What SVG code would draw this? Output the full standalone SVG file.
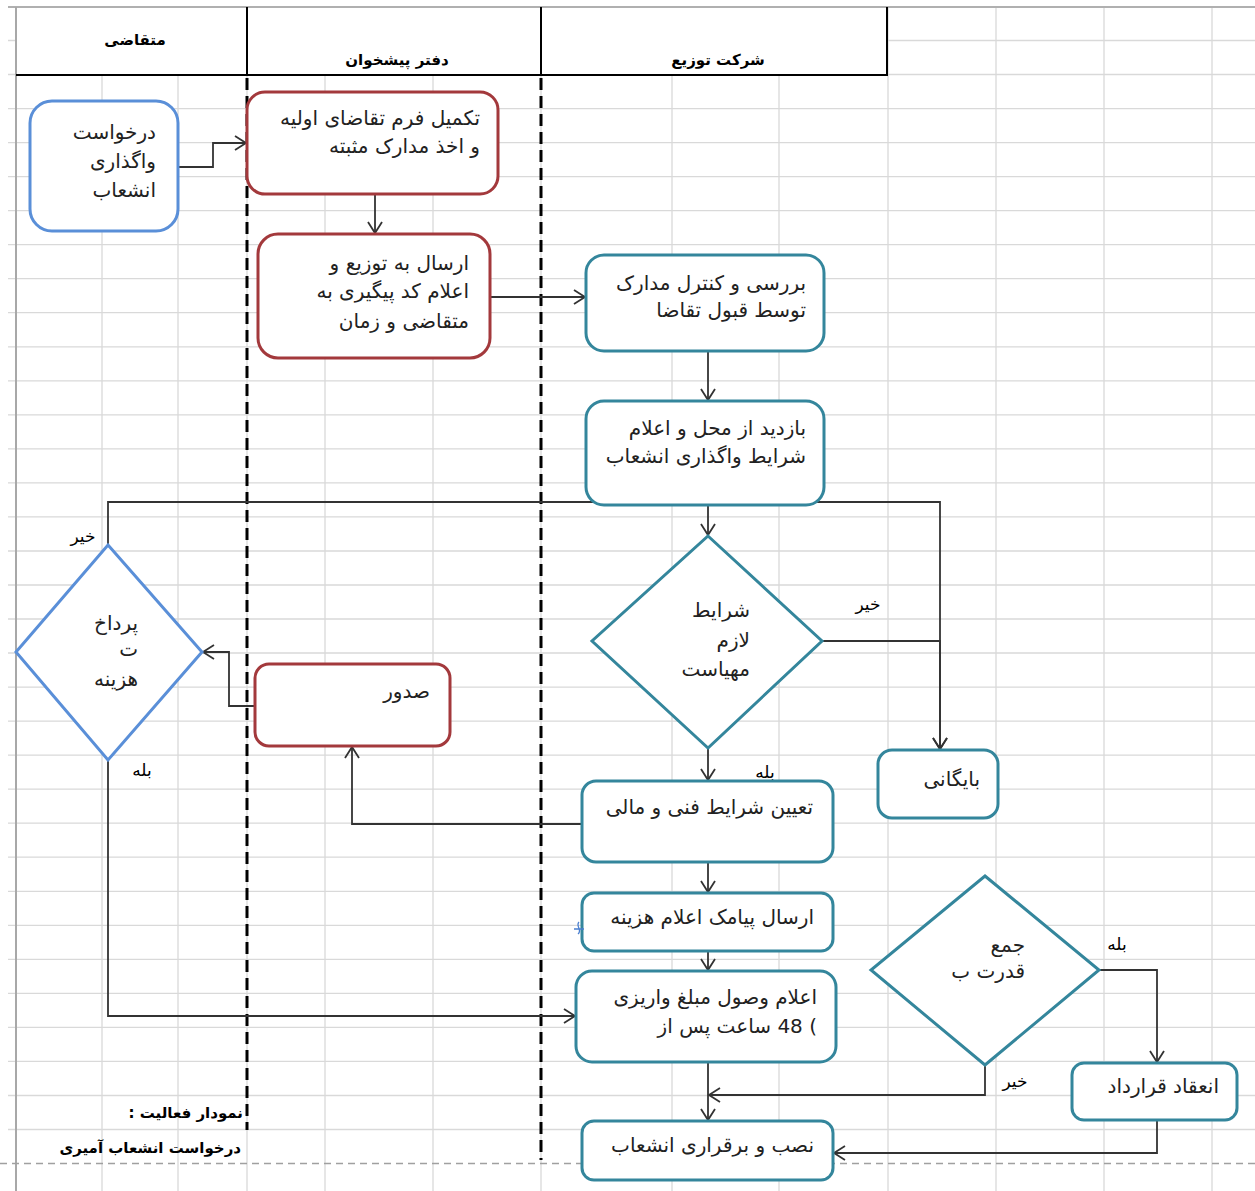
<svg xmlns="http://www.w3.org/2000/svg" width="1255" height="1191" viewBox="0 0 1255 1191">
<defs>
<marker id="arr" markerUnits="userSpaceOnUse" markerWidth="14" markerHeight="16" refX="12" refY="8" orient="auto">
<path d="M1,1 L12,8 L1,15" fill="none" stroke="#333" stroke-width="1.8"/>
</marker>
</defs>
<style>
.grid line{stroke:#d9d9d9;stroke-width:1.3}
.hdr{font-family:"DejaVu Sans",sans-serif;font-size:15px;font-weight:bold;fill:#000}
.t{font-family:"DejaVu Sans",sans-serif;font-size:20px;fill:#222}
.r{direction:rtl;text-anchor:start}
.m{text-anchor:middle}
.lbl{font-family:"DejaVu Sans",sans-serif;font-size:17px;fill:#000}
.blue{fill:#fff;stroke:#5a8fd8;stroke-width:3}
.red{fill:#fff;stroke:#a3393c;stroke-width:3}
.teal{fill:#fff;stroke:#34869c;stroke-width:3}
.c{fill:none;stroke:#333;stroke-width:1.8}
.lane{stroke:#000;stroke-width:3;stroke-dasharray:12 6}
</style>
<rect width="1255" height="1191" fill="#fff"/>
<g class="grid">
<line x1="8" y1="40.5" x2="1255" y2="40.5"/><line x1="8" y1="74.5" x2="1255" y2="74.5"/><line x1="8" y1="108.6" x2="1255" y2="108.6"/><line x1="8" y1="142.6" x2="1255" y2="142.6"/><line x1="8" y1="176.6" x2="1255" y2="176.6"/><line x1="8" y1="210.7" x2="1255" y2="210.7"/><line x1="8" y1="244.7" x2="1255" y2="244.7"/><line x1="8" y1="278.7" x2="1255" y2="278.7"/><line x1="8" y1="312.7" x2="1255" y2="312.7"/><line x1="8" y1="346.8" x2="1255" y2="346.8"/><line x1="8" y1="380.8" x2="1255" y2="380.8"/><line x1="8" y1="414.8" x2="1255" y2="414.8"/><line x1="8" y1="448.9" x2="1255" y2="448.9"/><line x1="8" y1="482.9" x2="1255" y2="482.9"/><line x1="8" y1="516.9" x2="1255" y2="516.9"/><line x1="8" y1="551" x2="1255" y2="551"/><line x1="8" y1="585" x2="1255" y2="585"/><line x1="8" y1="619" x2="1255" y2="619"/><line x1="8" y1="653" x2="1255" y2="653"/><line x1="8" y1="687.1" x2="1255" y2="687.1"/><line x1="8" y1="721.1" x2="1255" y2="721.1"/><line x1="8" y1="755.1" x2="1255" y2="755.1"/><line x1="8" y1="789.2" x2="1255" y2="789.2"/><line x1="8" y1="823.2" x2="1255" y2="823.2"/><line x1="8" y1="857.2" x2="1255" y2="857.2"/><line x1="8" y1="891.3" x2="1255" y2="891.3"/><line x1="8" y1="925.3" x2="1255" y2="925.3"/><line x1="8" y1="959.3" x2="1255" y2="959.3"/><line x1="8" y1="993.4" x2="1255" y2="993.4"/><line x1="8" y1="1027.4" x2="1255" y2="1027.4"/><line x1="8" y1="1061.4" x2="1255" y2="1061.4"/><line x1="8" y1="1095.5" x2="1255" y2="1095.5"/><line x1="8" y1="1129.5" x2="1255" y2="1129.5"/>
<line x1="102" y1="6" x2="102" y2="1191"/><line x1="178" y1="6" x2="178" y2="1191"/><line x1="247" y1="6" x2="247" y2="1191"/><line x1="325" y1="6" x2="325" y2="1191"/><line x1="433" y1="6" x2="433" y2="1191"/><line x1="541" y1="6" x2="541" y2="1191"/><line x1="672" y1="6" x2="672" y2="1191"/><line x1="779" y1="6" x2="779" y2="1191"/><line x1="888" y1="6" x2="888" y2="1191"/><line x1="996" y1="6" x2="996" y2="1191"/><line x1="1104" y1="6" x2="1104" y2="1191"/><line x1="1212" y1="6" x2="1212" y2="1191"/>
</g>
<line x1="8" y1="7" x2="1255" y2="7" stroke="#b0b0b0" stroke-width="2"/>
<line x1="16" y1="7" x2="16" y2="1191" stroke="#a8a8a8" stroke-width="2"/>
<line x1="0" y1="1163.5" x2="1255" y2="1163.5" stroke="#a0a0a0" stroke-width="1.5" stroke-dasharray="7 5"/>
<g id="header">
<rect x="17" y="8" width="870" height="67" fill="#fff"/>
<line x1="16" y1="75" x2="888" y2="75" stroke="#000" stroke-width="2"/>
<line x1="247" y1="7" x2="247" y2="75" stroke="#000" stroke-width="2"/>
<line x1="541" y1="7" x2="541" y2="75" stroke="#000" stroke-width="2"/>
<line x1="887" y1="7" x2="887" y2="75" stroke="#000" stroke-width="2"/>
<text class="hdr m" x="135" y="45">متقاضی</text>
<text class="hdr m" x="397" y="65">دفتر پیشخوان</text>
<text class="hdr m" x="718" y="65">شرکت توزیع</text>
</g>
<g id="lanes">
<line class="lane" x1="247" y1="78" x2="247" y2="1130"/>
<line class="lane" x1="541" y1="78" x2="541" y2="1160"/>
</g>
<g id="connectors">
<path class="c" d="M178,167 H213 V143 H246" marker-end="url(#arr)"/>
<path class="c" d="M375,194 V233" marker-end="url(#arr)"/>
<path class="c" d="M490,297 H585" marker-end="url(#arr)"/>
<path class="c" d="M708,351 V400" marker-end="url(#arr)"/>
<path class="c" d="M708,505 V535" marker-end="url(#arr)"/>
<path class="c" d="M108,545 V502 H940 V749" marker-end="url(#arr)" stroke="#444" stroke-width="2.2"/>
<path class="c" d="M822,641 H940 V749" marker-end="url(#arr)"/>
<path class="c" d="M708,748 V780" marker-end="url(#arr)"/>
<path class="c" d="M582,824 H352 V747" marker-end="url(#arr)"/>
<path class="c" d="M255,706 H229 V652 H203" marker-end="url(#arr)"/>
<path class="c" d="M108,760 V1016 H575" marker-end="url(#arr)"/>
<path class="c" d="M708,862 V892" marker-end="url(#arr)"/>
<path class="c" d="M708,951 V970" marker-end="url(#arr)"/>
<path class="c" d="M708,1062 V1120" marker-end="url(#arr)"/>
<path class="c" d="M985,1065 V1095 H709" marker-end="url(#arr)"/>
<path class="c" d="M1099,970 H1157 V1062" marker-end="url(#arr)"/>
<path class="c" d="M1157,1120 V1153 H834" marker-end="url(#arr)"/>
<text class="lbl m" x="83" y="542">خیر</text>
<text class="lbl m" x="868" y="610">خیر</text>
<text class="lbl m" x="765" y="778">بله</text>
<text class="lbl m" x="142" y="776">بله</text>
<text class="lbl m" x="1117" y="950">بله</text>
<text class="lbl m" x="1015" y="1087">خیر</text>
</g>
<g id="n1">
<rect class="blue" x="30" y="101" width="148" height="130" rx="22"/>
<text class="t r" x="156" y="139">درخواست</text>
<text class="t r" x="156" y="168">واگذاری</text>
<text class="t r" x="156" y="197">انشعاب</text>
</g>
<g id="n2">
<rect class="red" x="247" y="92" width="251" height="102" rx="18"/>
<text class="t r" x="480" y="125">تکمیل فرم  تقاضای اولیه</text>
<text class="t r" x="480" y="153">و اخذ مدارک مثبته</text>
</g>
<g id="n3">
<rect class="red" x="258" y="234" width="232" height="124" rx="20"/>
<text class="t r" x="469" y="270">ارسال به توزیع و</text>
<text class="t r" x="469" y="298">اعلام کد پیگیری به</text>
<text class="t r" x="469" y="328">متقاضی و زمان</text>
</g>
<g id="n4">
<rect class="teal" x="586" y="255" width="238" height="96" rx="18"/>
<text class="t r" x="806" y="290">بررسی و کنترل مدارک</text>
<text class="t r" x="806" y="317">توسط قبول تقاضا</text>
</g>
<g id="n5">
<rect class="teal" x="586" y="401" width="238" height="104" rx="18"/>
<text class="t r" x="806" y="435">بازدید از محل و اعلام</text>
<text class="t r" x="806" y="463">شرایط واگذاری انشعاب</text>
</g>
<g id="n6">
<polygon class="teal" points="708,536 822,641 708,748 592,641"/>
<text class="t r" x="750" y="617">شرایط</text>
<text class="t r" x="750" y="647">لازم</text>
<text class="t r" x="750" y="676">مهیاست</text>
</g>
<g id="n7">
<rect class="teal" x="878" y="750" width="120" height="68" rx="14"/>
<text class="t r" x="980" y="786">بایگانی</text>
</g>
<g id="n8">
<polygon class="blue" points="108,545 202,652 108,760 16,652"/>
<text class="t r" x="138" y="630">پرداخ</text>
<text class="t r" x="138" y="656">ت</text>
<text class="t r" x="138" y="686">هزینه</text>
</g>
<g id="n9">
<rect class="red" x="255" y="664" width="195" height="82" rx="14"/>
<text class="t r" x="430" y="698">صدور</text>
</g>
<g id="n10">
<rect class="teal" x="582" y="781" width="251" height="81" rx="14"/>
<text class="t r" x="813" y="814">تعیین شرایط فنی و مالی</text>
</g>
<g id="n11">
<rect class="teal" x="582" y="893" width="251" height="58" rx="12"/>
<text class="t r" x="814" y="924">ارسال پیامک اعلام هزینه</text>
<path d="M579,922 C575,926 583,930 578,934 M574,929 H584" fill="none" stroke="#4a7fd0" stroke-width="1.3"/>
</g>
<g id="n12">
<rect class="teal" x="576" y="971" width="260" height="91" rx="16"/>
<text class="t r" x="817" y="1004">اعلام وصول مبلغ واریزی</text>
<text class="t r" x="817" y="1033">) 48 ساعت پس از</text>
</g>
<g id="n13">
<polygon class="teal" points="985,876 1099,970 985,1065 871,970"/>
<text class="t r" x="1025" y="952">جمع</text>
<text class="t r" x="1025" y="978">قدرت ب</text>
</g>
<g id="n14">
<rect class="teal" x="1072" y="1063" width="165" height="57" rx="12"/>
<text class="t r" x="1219" y="1093">انعقاد قرارداد</text>
</g>
<g id="n15">
<rect class="teal" x="582" y="1121" width="251" height="59" rx="12"/>
<text class="t r" x="814" y="1152">نصب و برقراری انشعاب</text>
</g>
<g id="footer">
<text class="hdr r" x="243" y="1118">نمودار فعالیت :</text>
<text class="hdr r" x="241" y="1153">درخواست انشعاب آمیری</text>
</g>
</svg>
